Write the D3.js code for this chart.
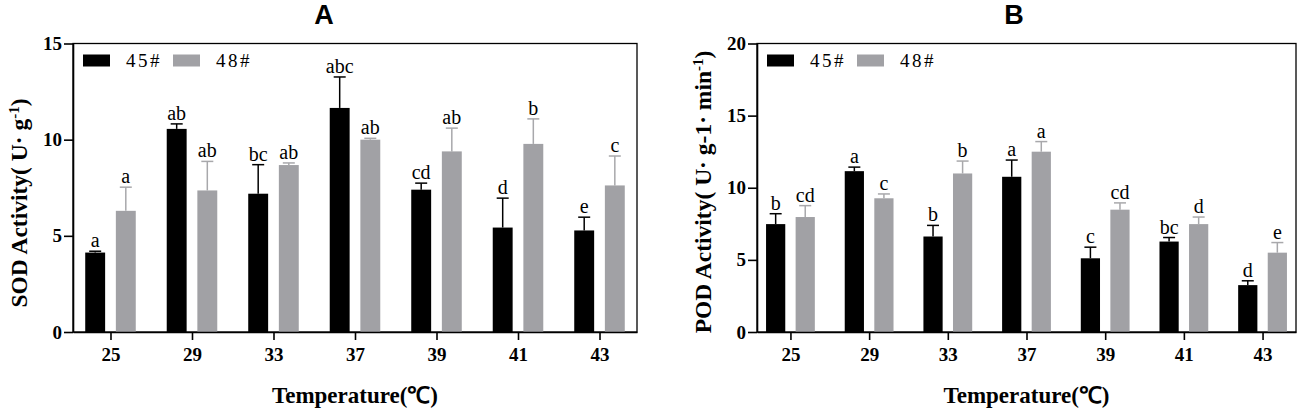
<!DOCTYPE html>
<html>
<head>
<meta charset="utf-8">
<script src="https://cdn.jsdelivr.net/npm/d3@7"></script>
<style>
  body { margin: 0; background: #fff; }
  svg { display: block; }
</style>
</head>
<body>
<div id="chart"></div>
<script>
// temperatures and the two lines
const temps = ["25", "29", "33", "37", "39", "41", "43"];
const series = ["45#", "48#"];

// A - SOD
const sod45 = [4.13, 10.56, 7.19, 11.65, 7.40, 5.43, 5.28];
const sod45Err = [0.07, 0.26, 1.51, 1.61, 0.34, 1.53, 0.69];
const sod48 = [6.30, 7.36, 8.68, 10.00, 9.39, 9.78, 7.62];
const sod48Err = [1.23, 1.51, 0.11, 0.07, 1.21, 1.30, 1.53];
const sod45Sig = ["a", "ab", "bc", "abc", "cd", "d", "e"];
const sod48Sig = ["a", "ab", "ab", "ab", "ab", "b", "c"];
const sodTicks = [0, 5, 10, 15];

// B - POD
const pod45 = [7.48, 11.15, 6.62, 10.76, 5.11, 6.27, 3.25];
const pod45Err = [0.72, 0.28, 0.77, 1.16, 0.77, 0.28, 0.30];
const pod48 = [7.97, 9.27, 10.99, 12.50, 8.48, 7.48, 5.50];
const pod48Err = [0.79, 0.30, 0.86, 0.70, 0.47, 0.49, 0.70];
const pod45Sig = ["b", "a", "b", "a", "c", "bc", "d"];
const pod48Sig = ["cd", "c", "b", "a", "cd", "d", "e"];
const podTicks = [0, 5, 10, 15, 20];

const colors = { "45#": "#000000", "48#": "#a1a1a5" };
const capColors = { "45#": "#000000", "48#": "#a8a8ab" };
const serif = "'Liberation Serif', 'Times New Roman', serif";

const svg = d3.select("#chart")
  .append("svg")
  .attr("width", 1299)
  .attr("height", 411);

function drawPanel(p) {
  const g = svg.append("g");

  const x = d3.scalePoint()
    .domain(temps)
    .range([p.left, p.right])
    .padding(p.pad);

  const step = x.step();
  const x1 = d3.scaleBand()
    .domain(series)
    .range([-0.31 * step, 0.31 * step])
    .paddingInner(0.35);

  const y = d3.scaleLinear()
    .domain([0, p.max])
    .range([p.bottom, p.top]);

  const rows = [];
  temps.forEach((t, i) => {
    rows.push({ t, s: "45#", v: p.v45[i], e: p.e45[i], sig: p.s45[i] });
    rows.push({ t, s: "48#", v: p.v48[i], e: p.e48[i], sig: p.s48[i] });
  });

  // frame
  g.append("rect")
    .attr("x", p.left)
    .attr("y", p.top)
    .attr("width", p.right - p.left)
    .attr("height", p.bottom - p.top)
    .attr("fill", "none")
    .attr("stroke", "#000")
    .attr("stroke-width", 1.3);

  // error bars
  const err = g.append("g");
  err.selectAll("line.stem")
    .data(rows)
    .join("line")
    .attr("x1", d => x(d.t) + x1(d.s) + x1.bandwidth() / 2)
    .attr("x2", d => x(d.t) + x1(d.s) + x1.bandwidth() / 2)
    .attr("y1", d => y(d.v))
    .attr("y2", d => y(d.v + d.e))
    .attr("stroke", d => capColors[d.s])
    .attr("stroke-width", 1.5);
  err.selectAll("line.cap")
    .data(rows)
    .join("line")
    .attr("x1", d => x(d.t) + x1(d.s) + x1.bandwidth() / 2 - 6)
    .attr("x2", d => x(d.t) + x1(d.s) + x1.bandwidth() / 2 + 6)
    .attr("y1", d => y(d.v + d.e))
    .attr("y2", d => y(d.v + d.e))
    .attr("stroke", d => capColors[d.s])
    .attr("stroke-width", 1.5);

  // bars
  g.append("g")
    .selectAll("rect")
    .data(rows)
    .join("rect")
    .attr("x", d => x(d.t) + x1(d.s))
    .attr("y", d => y(d.v))
    .attr("width", x1.bandwidth())
    .attr("height", d => y(0) - y(d.v))
    .attr("fill", d => colors[d.s]);

  // significance letters
  g.append("g")
    .selectAll("text")
    .data(rows)
    .join("text")
    .attr("x", d => x(d.t) + x1(d.s) + x1.bandwidth() / 2)
    .attr("y", d => y(d.v + d.e) - 4)
    .attr("text-anchor", "middle")
    .style("font-family", serif)
    .style("font-size", "20px")
    .text(d => d.sig);

  // axes
  const yAxis = g.append("g")
    .attr("transform", `translate(${p.left},0)`)
    .call(d3.axisLeft(y)
      .tickValues(p.ticks)
      .tickSize(9)
      .tickSizeOuter(0)
      .tickPadding(2));
  yAxis.selectAll("path, line").attr("stroke", "#000").attr("stroke-width", 1.6);
  yAxis.selectAll("text")
    .style("font-family", serif)
    .style("font-size", "19px")
    .style("font-weight", "bold")
    .attr("fill", "#000");

  const xAxis = g.append("g")
    .attr("transform", `translate(0,${p.bottom})`)
    .call(d3.axisBottom(x)
      .tickSize(8)
      .tickSizeOuter(0)
      .tickPadding(8));
  xAxis.selectAll("path, line").attr("stroke", "#000").attr("stroke-width", 1.6);
  xAxis.selectAll("text")
    .style("font-family", serif)
    .style("font-size", "19px")
    .style("font-weight", "bold")
    .attr("fill", "#000");

  // legend
  const leg = g.append("g")
    .attr("transform", `translate(${p.left + 10},${p.top + 11})`);
  series.forEach((s, i) => {
    leg.append("rect")
      .attr("x", i * 90)
      .attr("y", 0)
      .attr("width", 27)
      .attr("height", 12)
      .attr("fill", colors[s]);
    leg.append("text")
      .attr("x", i * 90 + 43)
      .attr("y", 12.5)
      .style("font-family", serif)
      .style("font-size", "19px")
      .style("letter-spacing", "2.5px")
      .text(s);
  });

  // title
  g.append("text")
    .attr("x", p.titleX)
    .attr("y", 24)
    .attr("text-anchor", "middle")
    .style("font-family", "'Liberation Sans', Arial, sans-serif")
    .style("font-size", "27px")
    .style("font-weight", "bold")
    .text(p.title);

  // x title
  g.append("text")
    .attr("x", (p.left + p.right) / 2)
    .attr("y", 403)
    .attr("text-anchor", "middle")
    .style("font-family", serif)
    .style("font-size", "23px")
    .style("font-weight", "bold")
    .text("Temperature(℃)");

  // y title
  const yt = g.append("text")
    .attr("transform", `translate(${p.labelX},${p.labelY}) rotate(-90)`)
    .attr("text-anchor", "middle")
    .attr("dy", "0.35em")
    .style("font-family", serif)
    .style("font-size", "23.5px")
    .style("font-weight", "bold");
  p.label(yt);
}

drawPanel({
  left: 73, right: 637, top: 43.5, bottom: 332, pad: 0.46,
  max: 15, ticks: sodTicks,
  v45: sod45, e45: sod45Err, v48: sod48, e48: sod48Err, s45: sod45Sig, s48: sod48Sig,
  title: "A", titleX: 324, labelX: 19, labelY: 203,
  label: t => {
    t.append("tspan").text("SOD Activity( U· g");
    t.append("tspan").attr("baseline-shift", "super").style("font-size", "15px").text("-1");
    t.append("tspan").text(")");
  }
});

drawPanel({
  left: 757, right: 1296, top: 43.5, bottom: 332, pad: 0.425,
  max: 20, ticks: podTicks,
  v45: pod45, e45: pod45Err, v48: pod48, e48: pod48Err, s45: pod45Sig, s48: pod48Sig,
  title: "B", titleX: 1014, labelX: 703, labelY: 192,
  label: t => {
    t.append("tspan").text("POD Activity( U· g-1· min");
    t.append("tspan").attr("baseline-shift", "super").style("font-size", "15px").text("-1");
    t.append("tspan").text(")");
  }
});
</script>
</body>
</html>
